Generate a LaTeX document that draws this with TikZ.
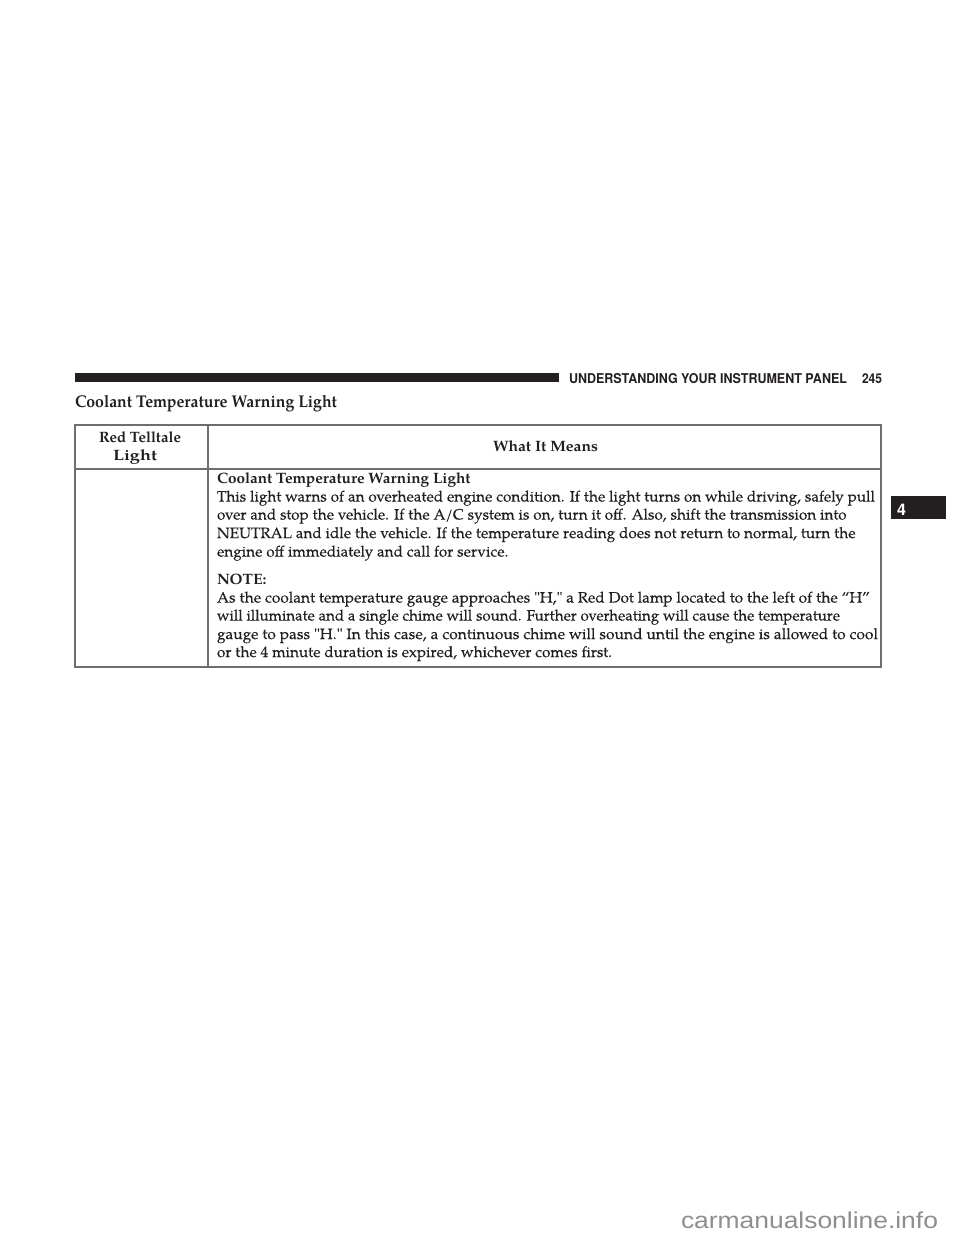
\documentclass[tikz,border=0pt]{standalone}
\usepackage{fontspec}
\usepackage{graphicx}
\setmainfont{TeX Gyre Pagella}[UprightFeatures={FakeBold=0.12}]
\newfontfamily\hdrfont{TeX Gyre Heros}
\newfontfamily\wmfont{Liberation Sans}
\definecolor{ink}{HTML}{231F20}
\definecolor{rulegray}{HTML}{6E6E6E}
\definecolor{wmgray}{HTML}{8E8E8E}
\newlength\mylenw
\newcommand\fitto[2]{\settowidth{\mylenw}{#2}\pgfmathsetmacro\myfac{#1/\mylenw}\scalebox{\myfac}[1]{#2}}
\newcommand\sx[2]{\scalebox{#1}[1]{#2}}
\newcommand\bodyf{\fontsize{15}{18}\selectfont}
\newcommand\bodybf{\fontsize{15}{18}\selectfont\bfseries}
\newcommand\headf{\fontsize{15}{18}\selectfont\bfseries}
\newcommand\titlef{\fontsize{17}{20}\selectfont\bfseries}
\newcommand\barf{\fontsize{13.5}{16}\selectfont\hdrfont\bfseries}
\newcommand\qd{\textquotedbl}
\begin{document}
% common horizontal factors for the two paragraphs
\settowidth{\mylenw}{\bodyf This light warns of an overheated engine condition. If the light turns on while driving, safely pull}%
\pgfmathsetmacro\facA{658/\mylenw}%
\settowidth{\mylenw}{\bodyf gauge to pass \qd H.\qd{} In this case, a continuous chime will sound until the engine is allowed to cool}%
\pgfmathsetmacro\facB{661/\mylenw}%
\begin{tikzpicture}[x=1pt,y=-1pt,
  txt/.style={anchor=base west, inner sep=0pt, outer sep=0pt, text=ink},
  tablerule/.style={draw=rulegray, line width=1.1pt}]
\useasboundingbox[fill=white] (0,0) rectangle (960,1242);
% running header
\fill[ink] (75,373) rectangle (559,382);
\node[txt] (hdr) at (569,383) {\fitto{278}{\barf UNDERSTANDING YOUR INSTRUMENT PANEL}};
\node[txt] (pg) at (862,383) {\fitto{20}{\barf 245}};
% title
\node[txt] (title) at (75,407) {\fitto{262}{\titlef Coolant Temperature Warning Light}};
% table
\coordinate (tl) at (75,425);
\coordinate (br) at (881,667);
\draw[tablerule] (tl) rectangle (br);
\draw[tablerule] (75,469) -- (881,469);
\draw[tablerule] (208,425) -- (208,667);
% header row
\node[txt] (h1a) at (99,442) {\fitto{82}{\headf Red Telltale}};
\node[txt] (h1b) at (113,460) {\fitto{44}{\headf Light}};
\node[txt] (h2) at (493,451.5) {\fitto{105}{\headf What It Means}};
% body
\node[txt] (b0) at (217,483.5) {\sx{\facA}{\bodybf Coolant Temperature Warning Light}};
\node[txt] (b1) at (217,501.5) {\sx{\facA}{\bodyf This light warns of an overheated engine condition. If the light turns on while driving, safely pull}};
\node[txt] (b2) at (217,519.5) {\sx{\facA}{\bodyf over and stop the vehicle. If the A/C system is on, turn it off. Also, shift the transmission into}};
\node[txt] (b3) at (217,538) {\sx{\facA}{\bodyf NEUTRAL and idle the vehicle. If the temperature reading does not return to normal, turn the}};
\node[txt] (b4) at (217,556.5) {\sx{\facA}{\bodyf engine off immediately and call for service.}};
\node[txt] (note) at (217,584.5) {\sx{\facB}{\bodybf NOTE:}};
\node[txt] (n1) at (217,602.5) {\fitto{653}{\bodyf As the coolant temperature gauge approaches \qd H,\qd{} a Red Dot lamp located to the left of the “H”}};
\node[txt] (n2) at (217,620.5) {\fitto{623}{\bodyf will illuminate and a single chime will sound. Further overheating will cause the temperature}};
\node[txt] (n3) at (217,639) {\fitto{661}{\bodyf gauge to pass \qd H.\qd{} In this case, a continuous chime will sound until the engine is allowed to cool}};
\node[txt] (n4) at (217,657) {\fitto{395}{\bodyf or the 4 minute duration is expired, whichever comes first.}};
% side tab
\fill[ink] (891,496) rectangle (946,519);
\node[txt, text=white] (tab) at (897,515) {\fontsize{16}{18}\selectfont\hdrfont\bfseries 4};
% watermark
\node[txt, text=wmgray] (wm) at (681,1228) {\fitto{257}{\fontsize{23}{26}\selectfont\wmfont carmanualsonline.info}};
\end{tikzpicture}
\end{document}
